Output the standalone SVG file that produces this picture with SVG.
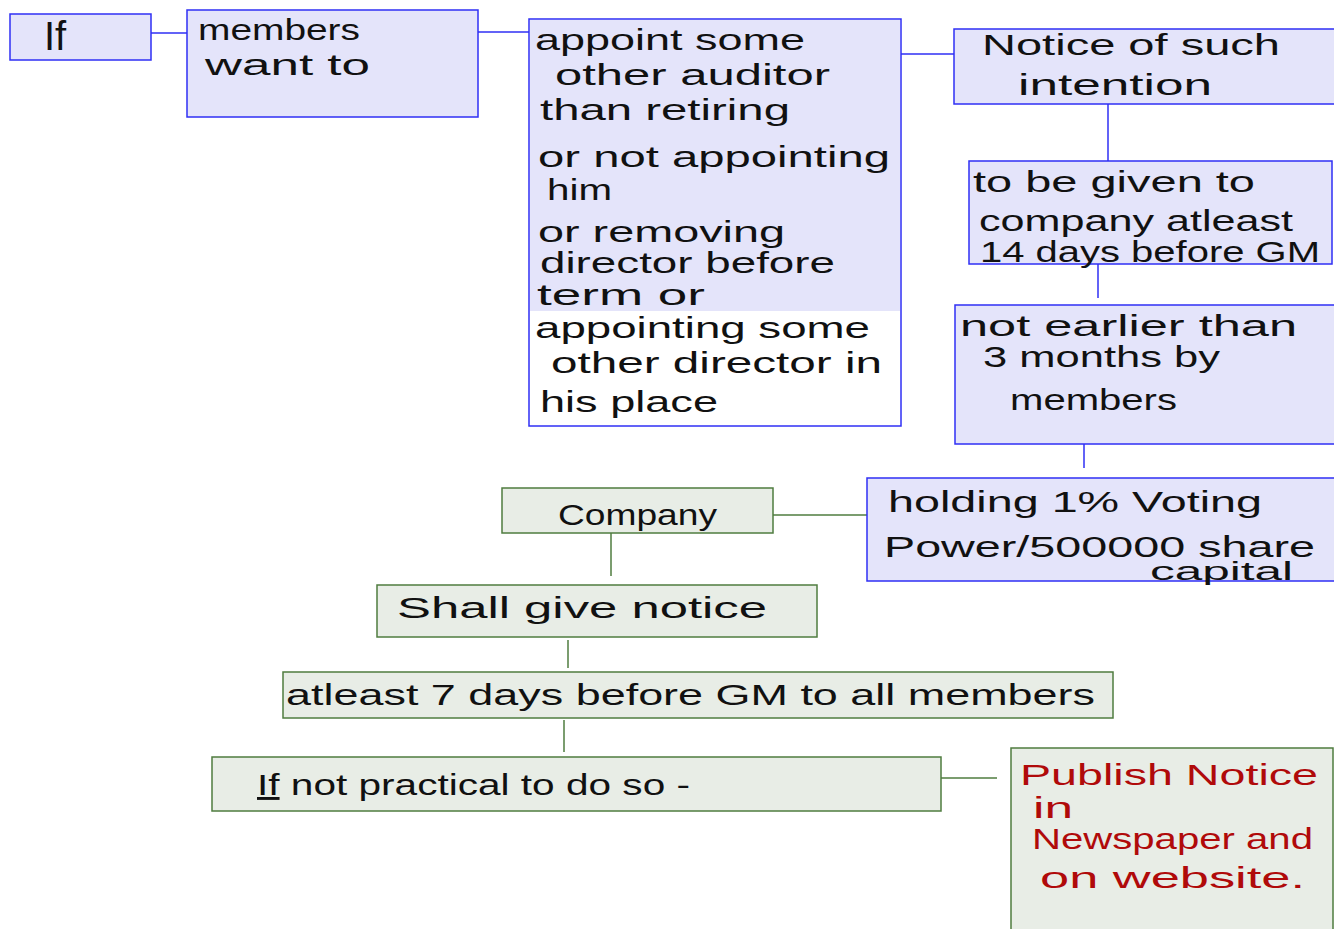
<svg xmlns="http://www.w3.org/2000/svg" width="1334" height="929" viewBox="0 0 1334 929">
<style>
.b{fill:#e4e4fa;stroke:#2f2ff5;stroke-width:1.5}
.g{fill:#e8ede6;stroke:#4f7c3f;stroke-width:1.5}
.cb{stroke:#2f2ff5;stroke-width:1.5;fill:none}
.cg{stroke:#4f7c3f;stroke-width:1.5;fill:none}
text{font-family:"Liberation Sans",Arial,sans-serif;font-size:29px;fill:#111}
.r{fill:#b00a0a}
</style>
<rect width="1334" height="929" fill="#fff"/>
<g id="connectors">
<line class="cb" x1="151" y1="33" x2="187" y2="33"/>
<line class="cb" x1="478" y1="32" x2="529" y2="32"/>
<line class="cb" x1="901" y1="54" x2="954" y2="54"/>
<line class="cb" x1="1108" y1="104" x2="1108" y2="161"/>
<line class="cb" x1="1098" y1="264" x2="1098" y2="298"/>
<line class="cb" x1="1084" y1="444" x2="1084" y2="468"/>
<line class="cg" x1="773" y1="515" x2="867" y2="515"/>
<line class="cg" x1="611" y1="533" x2="611" y2="576"/>
<line class="cg" x1="568" y1="640" x2="568" y2="668"/>
<line class="cg" x1="564" y1="720" x2="564" y2="752"/>
<line class="cg" x1="941" y1="778" x2="997" y2="778"/>
</g>
<g id="n-if">
<rect class="b" x="10" y="14" width="141" height="46"/>
<text x="44" y="50" style="font-size:40px">If</text>
</g>
<g id="n-members">
<rect class="b" x="187" y="10" width="291" height="107"/>
<text x="198" y="40" textLength="162" lengthAdjust="spacingAndGlyphs">members</text>
<text x="205" y="75" textLength="165" lengthAdjust="spacingAndGlyphs">want to</text>
</g>
<g id="n-appoint">
<rect x="529" y="19" width="372" height="407" fill="#fff" stroke="#2f2ff5" stroke-width="1.5"/>
<rect x="530" y="20" width="370" height="291" fill="#e4e4fa"/>
<text x="535" y="50" textLength="270" lengthAdjust="spacingAndGlyphs">appoint some</text>
<text x="555" y="85" textLength="275" lengthAdjust="spacingAndGlyphs">other auditor</text>
<text x="540" y="120" textLength="250" lengthAdjust="spacingAndGlyphs">than retiring</text>
<text x="538" y="167" textLength="352" lengthAdjust="spacingAndGlyphs">or not appointing</text>
<text x="547" y="200" textLength="65" lengthAdjust="spacingAndGlyphs">him</text>
<text x="538" y="242" textLength="247" lengthAdjust="spacingAndGlyphs">or removing</text>
<text x="540" y="273" textLength="295" lengthAdjust="spacingAndGlyphs">director before</text>
<text x="537" y="305" textLength="168" lengthAdjust="spacingAndGlyphs">term or</text>
<text x="535" y="338" textLength="335" lengthAdjust="spacingAndGlyphs">appointing some</text>
<text x="551" y="373" textLength="331" lengthAdjust="spacingAndGlyphs">other director in</text>
<text x="540" y="412" textLength="178" lengthAdjust="spacingAndGlyphs">his place</text>
</g>
<g id="n-notice">
<rect class="b" x="954" y="29" width="381" height="75"/>
<text x="982" y="55" textLength="298" lengthAdjust="spacingAndGlyphs">Notice of such</text>
<text x="1018" y="95" textLength="194" lengthAdjust="spacingAndGlyphs">intention</text>
</g>
<g id="n-given">
<rect class="b" x="969" y="161" width="363" height="103"/>
<text x="973" y="192" textLength="282" lengthAdjust="spacingAndGlyphs">to be given to</text>
<text x="979" y="231" textLength="314" lengthAdjust="spacingAndGlyphs">company atleast</text>
<text x="980" y="262" textLength="340" lengthAdjust="spacingAndGlyphs">14 days before GM</text>
</g>
<g id="n-earlier">
<rect class="b" x="955" y="305" width="380" height="139"/>
<text x="960" y="336" textLength="337" lengthAdjust="spacingAndGlyphs">not earlier than</text>
<text x="983" y="367" textLength="237" lengthAdjust="spacingAndGlyphs">3 months by</text>
<text x="1010" y="410" textLength="167" lengthAdjust="spacingAndGlyphs">members</text>
</g>
<g id="n-holding">
<rect class="b" x="867" y="478" width="468" height="103"/>
<text x="888" y="512" textLength="374" lengthAdjust="spacingAndGlyphs">holding 1% Voting</text>
<text x="884" y="557" textLength="431" lengthAdjust="spacingAndGlyphs">Power/500000 share</text>
<text x="1150" y="580" style="font-size:25px" textLength="143" lengthAdjust="spacingAndGlyphs">capital</text>
</g>
<g id="n-company">
<rect class="g" x="502" y="488" width="271" height="45"/>
<text x="558" y="525" textLength="159" lengthAdjust="spacingAndGlyphs">Company</text>
</g>
<g id="n-shall">
<rect class="g" x="377" y="585" width="440" height="52"/>
<text x="397" y="618" textLength="370" lengthAdjust="spacingAndGlyphs">Shall give notice</text>
</g>
<g id="n-atleast">
<rect class="g" x="283" y="672" width="830" height="46"/>
<text x="286" y="705" textLength="809" lengthAdjust="spacingAndGlyphs">atleast 7 days before GM to all members</text>
</g>
<g id="n-practical">
<rect class="g" x="212" y="757" width="729" height="54"/>
<text x="257" y="795" textLength="433" lengthAdjust="spacingAndGlyphs"><tspan text-decoration="underline">If</tspan> not practical to do so -</text>
</g>
<g id="n-publish">
<rect class="g" x="1011" y="748" width="322" height="190"/>
<text class="r" x="1020" y="785" textLength="298" lengthAdjust="spacingAndGlyphs">Publish Notice</text>
<text class="r" x="1033" y="818" textLength="40" lengthAdjust="spacingAndGlyphs">in</text>
<text class="r" x="1032" y="849" textLength="281" lengthAdjust="spacingAndGlyphs">Newspaper and</text>
<text class="r" x="1040" y="888" textLength="265" lengthAdjust="spacingAndGlyphs">on website.</text>
</g>
</svg>
